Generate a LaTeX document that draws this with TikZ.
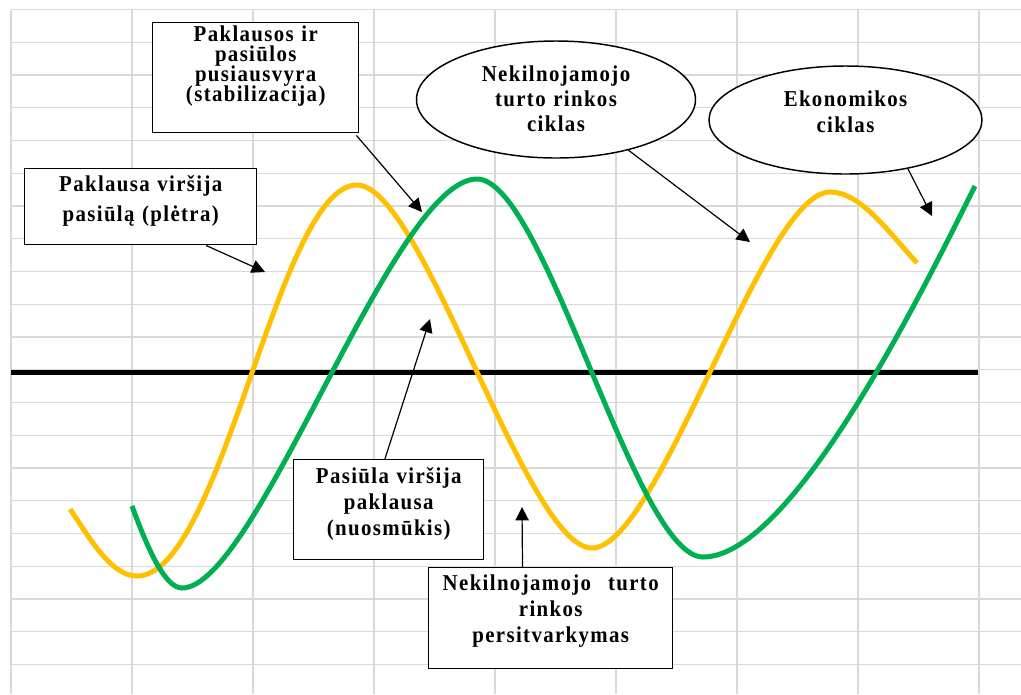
\documentclass[tikz,border=0pt]{standalone}
\usepackage{fontspec}
\usetikzlibrary{shapes.geometric,arrows.meta,calc}
\newfontfamily\lbl[LetterSpace=6,FakeStretch=0.92]{Liberation Serif}
\newcommand\lblfont[1]{\lbl\bfseries\fontsize{17pt}{#1}\selectfont\lineskiplimit=-20pt\relax}
\definecolor{gridgray}{RGB}{217,217,217}
\definecolor{cycyellow}{RGB}{255,192,0}
\definecolor{cycgreen}{RGB}{0,176,80}
\tikzset{
  gridline/.style={draw=gridgray, line width=1.1pt},
  wave/.style={line width=3.75pt},
  tbox/.style={draw, fill=white, line width=1.1pt, inner sep=0pt, align=center, anchor=north west},
  ebox/.style={ellipse, draw, fill=white, line width=1.1pt, inner sep=0pt, align=center, text width=130pt},
  conn/.style={line width=0.9pt, -{Triangle[length=10pt,width=10pt]}}
}
\begin{document}
\begin{tikzpicture}[x=0.75pt, y=-0.75pt]
\useasboundingbox (0,0) rectangle (1021,694);
\fill[white] (0,0) rectangle (1021,694);

% spreadsheet grid
\foreach \k in {0,...,20}
  \draw[gridline] (11,{9.5+32.75*\k}) -- (1021,{9.5+32.75*\k});
\foreach \k in {0,...,8}
  \draw[gridline] ({11+121*\k},9.5) -- ({11+121*\k},694);

% equilibrium line
\draw[line width=3.75pt] (11,372) -- (978,372);

% real estate market cycle (yellow)
\draw[wave, cycyellow] (70,509)
  .. controls (92,542) and (112,576) .. (137,576)
  .. controls (222,576) and (278,185) .. (357,185)
  .. controls (423,185) and (526,548) .. (592,548)
  .. controls (659,548) and (763,192) .. (830,192)
  .. controls (860,192) and (887,230) .. (917,263);

% economic cycle (green)
\draw[wave, cycgreen] (132,506)
  .. controls (146,544) and (164,588) .. (182,588)
  .. controls (257,588) and (393,179) .. (477,179)
  .. controls (545,179) and (635,557) .. (703,557)
  .. controls (793,557) and (925,286) .. (975,186);

% labels
\node[tbox, text width=154.5pt, text height=14.25pt, text depth=68.25pt, font={\lblfont{15pt}}]
  (b1) at (152,22) {Paklausos ir\\pasiūlos\\pusiausvyra\\(stabilizacija)};
\node[tbox, text width=174pt, text height=17.25pt, text depth=39.75pt, font={\lblfont{22.5pt}}]
  (b2) at (24,168) {Paklausa viršija\\pasiūlą (plėtra)};
\node[tbox, text width=142.5pt, text height=18pt, text depth=57pt, font={\lblfont{19.5pt}}]
  (b3) at (293,459) {Pasiūla viršija\\paklausa\\(nuosmūkis)};
\node[tbox, text width=183pt, text height=17.25pt, text depth=58.5pt, font={\lblfont{19.5pt}}]
  (b4) at (428,567) {\makebox[162pt]{Nekilnojamojo\hfill turto}\\rinkos\\persitvarkymas};
\node[ebox, minimum width=209.25pt, minimum height=87.75pt, text height=10.5pt, text depth=38.25pt,
  font={\lblfont{18.75pt}}] (e1) at (556,99.5) {Nekilnojamojo\\turto rinkos\\ciklas};
\node[ebox, minimum width=204.75pt, minimum height=81pt, text height=10.5pt, text depth=31.5pt,
  font={\lblfont{19.5pt}}] (e2) at (845.5,120) {Ekonomikos\\ciklas};

% arrow targets on the curves
\coordinate (t1) at (422,212);
\coordinate (t2) at (265,272);
\coordinate (t3) at (750,242);
\coordinate (t4) at (932,216);
\coordinate (t5) at (430,319);
\coordinate (t6) at (522,507);

\draw[conn] ([shift={(-3,2)}]b1.south east) -- (t1);
\draw[conn] ($(b2.south west)!0.78!(b2.south east)$) -- (t2);
\draw[conn] (e1.-35) -- (t3);
\draw[conn] (e2.-38) -- (t4);
\draw[conn] ($(b3.north west)!0.48!(b3.north east)$) -- (t5);
\draw[conn] ($(b4.north west)!0.385!(b4.north east)$) -- (t6);
\end{tikzpicture}
\end{document}
